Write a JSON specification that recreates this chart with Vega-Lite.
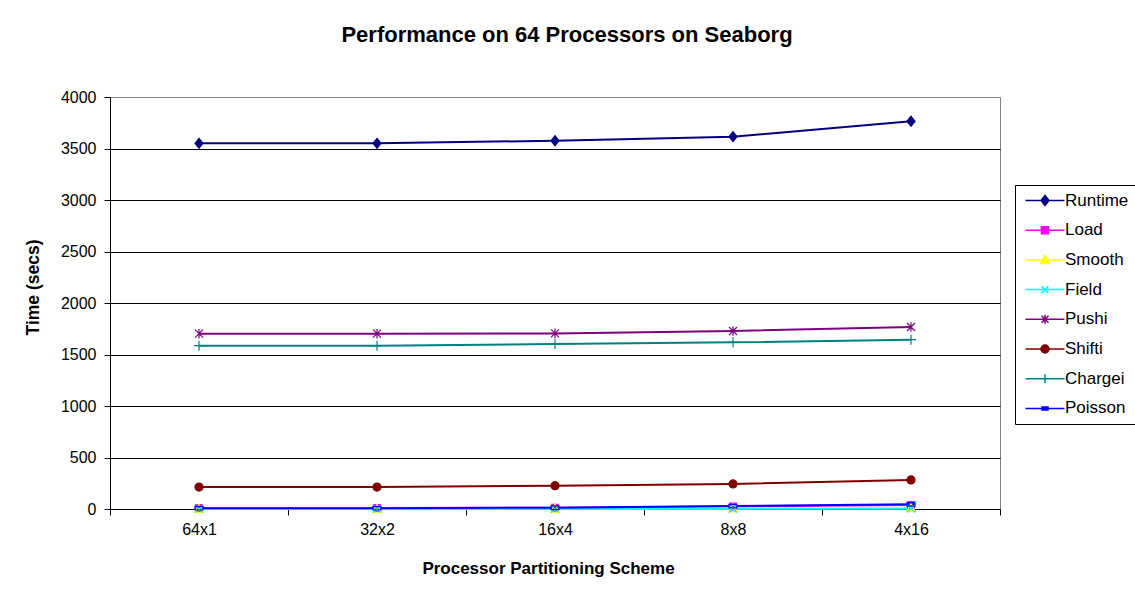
{
  "$schema": "https://vega.github.io/schema/vega-lite/v6.json",
  "width": 890,
  "height": 412,
  "autosize": {"type": "none"},
  "padding": {"left": 110, "top": 97, "right": 135, "bottom": 89},
  "background": "white",
  "config": {
    "font": "Liberation Sans",
    "view": {"stroke": "#808080", "strokeWidth": 1},
    "axis": {"labelColor": "black", "titleColor": "black", "domainColor": "black", "tickColor": "black"}
  },
  "title": {
    "text": "Performance on 64 Processors on Seaborg",
    "fontSize": 22,
    "fontWeight": "bold",
    "color": "black",
    "anchor": "middle",
    "frame": "group",
    "dx": 12,
    "baseline": "alphabetic",
    "offset": 25
  },
  "data": {
    "values": [
      {"scheme": "64x1", "series": "Runtime", "time": 3550},
      {"scheme": "32x2", "series": "Runtime", "time": 3550},
      {"scheme": "16x4", "series": "Runtime", "time": 3576},
      {"scheme": "8x8", "series": "Runtime", "time": 3615},
      {"scheme": "4x16", "series": "Runtime", "time": 3764},
      {"scheme": "64x1", "series": "Load", "time": 10},
      {"scheme": "32x2", "series": "Load", "time": 10},
      {"scheme": "16x4", "series": "Load", "time": 12},
      {"scheme": "8x8", "series": "Load", "time": 25},
      {"scheme": "4x16", "series": "Load", "time": 40},
      {"scheme": "64x1", "series": "Smooth", "time": 3},
      {"scheme": "32x2", "series": "Smooth", "time": 3},
      {"scheme": "16x4", "series": "Smooth", "time": 3},
      {"scheme": "8x8", "series": "Smooth", "time": 6},
      {"scheme": "4x16", "series": "Smooth", "time": 10},
      {"scheme": "64x1", "series": "Field", "time": 1},
      {"scheme": "32x2", "series": "Field", "time": 1},
      {"scheme": "16x4", "series": "Field", "time": 1},
      {"scheme": "8x8", "series": "Field", "time": 2},
      {"scheme": "4x16", "series": "Field", "time": 3},
      {"scheme": "64x1", "series": "Pushi", "time": 1702},
      {"scheme": "32x2", "series": "Pushi", "time": 1702},
      {"scheme": "16x4", "series": "Pushi", "time": 1705},
      {"scheme": "8x8", "series": "Pushi", "time": 1728},
      {"scheme": "4x16", "series": "Pushi", "time": 1767},
      {"scheme": "64x1", "series": "Shifti", "time": 213},
      {"scheme": "32x2", "series": "Shifti", "time": 213},
      {"scheme": "16x4", "series": "Shifti", "time": 226},
      {"scheme": "8x8", "series": "Shifti", "time": 243},
      {"scheme": "4x16", "series": "Shifti", "time": 282},
      {"scheme": "64x1", "series": "Chargei", "time": 1586},
      {"scheme": "32x2", "series": "Chargei", "time": 1586},
      {"scheme": "16x4", "series": "Chargei", "time": 1602},
      {"scheme": "8x8", "series": "Chargei", "time": 1618},
      {"scheme": "4x16", "series": "Chargei", "time": 1644},
      {"scheme": "64x1", "series": "Poisson", "time": 8},
      {"scheme": "32x2", "series": "Poisson", "time": 8},
      {"scheme": "16x4", "series": "Poisson", "time": 12},
      {"scheme": "8x8", "series": "Poisson", "time": 28},
      {"scheme": "4x16", "series": "Poisson", "time": 45}
    ]
  },
  "encoding": {
    "x": {
      "field": "scheme",
      "type": "nominal",
      "sort": ["64x1", "32x2", "16x4", "8x8", "4x16"],
      "scale": {"type": "band", "paddingInner": 0, "paddingOuter": 0},
      "axis": {
        "title": "Processor Partitioning Scheme",
        "titleFontSize": 17,
        "titleFontWeight": "bold",
        "titleX": 438,
        "titleY": 59,
        "titleBaseline": "middle",
        "titleAnchor": null,
        "labelAngle": 0,
        "labelFontSize": 16,
        "labelPadding": 6,
        "tickSize": 6,
        "tickBand": "extent",
        "grid": false,
        "domainWidth": 1
      }
    },
    "y": {
      "field": "time",
      "type": "quantitative",
      "scale": {"domain": [0, 4000], "nice": false},
      "axis": {
        "title": "Time (secs)",
        "titleFontSize": 17.5,
        "titleFontWeight": "bold",
        "titleX": -77,
        "titleY": 190,
        "titleAngle": -90,
        "titleAlign": "center",
        "titleBaseline": "middle",
        "titleAnchor": null,
        "values": [0, 500, 1000, 1500, 2000, 2500, 3000, 3500, 4000],
        "format": "d",
        "labelFontSize": 16,
        "labelPadding": 8,
        "tickSize": 6,
        "grid": true,
        "gridColor": {"condition": {"test": "datum.value === 4000", "value": "#808080"}, "value": "black"},
        "gridWidth": 1
      }
    },
    "color": {
      "field": "series",
      "type": "nominal",
      "scale": {
        "domain": ["Runtime", "Load", "Smooth", "Field", "Pushi", "Shifti", "Chargei", "Poisson"],
        "range": ["#000080", "#FF00FF", "#FFFF00", "#00FFFF", "#800080", "#800000", "#008080", "#0000FF"]
      },
      "legend": {
        "title": null,
        "orient": "none",
        "legendX": 905,
        "legendY": 88,
        "padding": 7,
        "strokeColor": "black",
        "fillColor": "white",
        "labelFontSize": 17,
        "labelColor": "black",
        "labelOffset": 26,
        "symbolSize": 100,
        "rowPadding": 11.7,
        "encode": {
          "symbols": {
            "update": {
              "shape": {"signal": "datum.value === 'Runtime' ? 'M-1,0H6.8M2.9,-1L3.7,0L2.9,1L2.1,0Z' : datum.value === 'Load' ? 'M-1,0H6.8M2.2,-0.7H3.6V0.7H2.2Z' : datum.value === 'Smooth' ? 'M-1,0H6.8M2.9,-0.9L3.8,0.7H2Z' : datum.value === 'Field' ? 'M-1,0H6.8M2.2,-0.7L3.6,0.7M2.2,0.7L3.6,-0.7' : datum.value === 'Pushi' ? 'M-1,0H6.8M2.2,-0.7L3.6,0.7M2.2,0.7L3.6,-0.7M2.9,-0.9V0.9' : datum.value === 'Shifti' ? 'M-1,0H6.8M2.1,0A0.8,0.8 0 1,0 3.7,0A0.8,0.8 0 1,0 2.1,0Z' : datum.value === 'Chargei' ? 'M-1,0H6.8M2.1,0H3.7M2.9,-0.9V0.9' : 'M-1,0H6.8M2.3,-0.3H3.5V0.3H2.3Z'"},
              "fill": {"signal": "scale('color', datum.value)"},
              "stroke": {"signal": "scale('color', datum.value)"},
              "strokeWidth": {"value": 1.5},
              "opacity": {"value": 1},
              "fillOpacity": {"value": 1},
              "strokeOpacity": {"value": 1},
              "size": {"value": 100}
            }
          }
        }
      }
    }
  },
  "layer": [
    {
      "mark": {"type": "line", "strokeWidth": 2}
    },
    {
      "encoding": {
        "shape": {
          "condition": [
            {"test": "datum.series === 'Runtime'", "value": "M0,-1.25L1,0L0,1.25L-1,0Z"},
            {"test": "datum.series === 'Load'", "value": "M-0.85,-0.85H0.85V0.85H-0.85Z"},
            {"test": "datum.series === 'Smooth'", "value": "M0,-1.1L1.1,0.9H-1.1Z"},
            {"test": "datum.series === 'Field'", "value": "M-1,-1L1,1M-1,1L1,-1"},
            {"test": "datum.series === 'Pushi'", "value": "M-1,-1L1,1M-1,1L1,-1M0,-1.2V1.2"},
            {"test": "datum.series === 'Shifti'", "value": "circle"},
            {"test": "datum.series === 'Chargei'", "value": "M-1.25,0H1.25M0,-1.25V1.25"}
          ],
          "value": "M-1,-0.45H1V0.45H-1Z"
        }
      },
      "layer": [
        {"mark": {"type": "point", "filled": true, "size": 64, "opacity": 1}},
        {"mark": {"type": "point", "filled": false, "size": 64, "strokeWidth": 1.2, "opacity": 1}}
      ]
    }
  ]
}
